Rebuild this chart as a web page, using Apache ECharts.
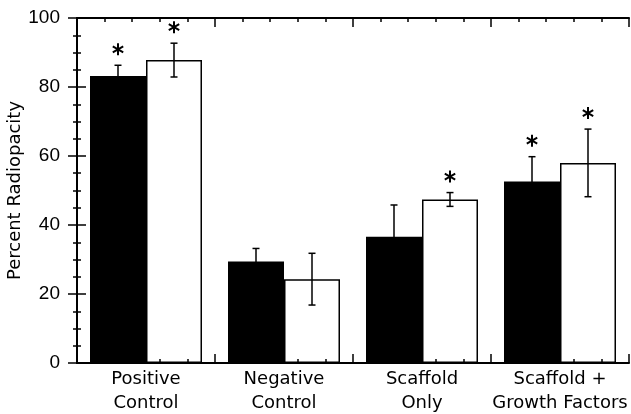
<!DOCTYPE html>
<html>
<head>
<meta charset="utf-8">
<script src="https://cdn.jsdelivr.net/npm/echarts@6/dist/echarts.min.js"></script>
<style>
  html, body { margin: 0; padding: 0; background: #fff; }
  #chartBox { width: 631px; height: 414px; }
</style>
</head>
<body>
<div id="chartBox"></div>
<script>
// categories and values
var categories = ['Positive\nControl', 'Negative\nControl', 'Scaffold\nOnly', 'Scaffold +\nGrowth Factors'];
var blackVals = [83.2, 29.4, 36.6, 52.6];
var blackErr = [3.1, 3.8, 9.2, 7.2];
var whiteVals = [87.8, 24.3, 47.4, 58.0];
var whiteErr = [4.9, 7.5, 2.0, 9.8];
var blackStar = [1, 0, 0, 1];
var whiteStar = [1, 0, 1, 1];
var yTicks = [0, 20, 40, 60, 80, 100];

var barW = 56;
var txtFont = 'DejaVu Sans';

// error bar + star, shifted left/right of the category centre
function errRender(offset, vals, errs, stars) {
    return function (params, api) {
        var i = api.value(0);
        var top = api.coord([i, vals[i] + errs[i]]);
        var bot = api.coord([i, vals[i] - errs[i]]);
        var x = top[0] + offset;
        var st = { stroke: '#000', lineWidth: 1.5 };
        var kids = [
            { type: 'line', shape: { x1: x, y1: top[1], x2: x, y2: bot[1] }, style: st },
            { type: 'line', shape: { x1: x - 3.5, y1: top[1], x2: x + 3.5, y2: top[1] }, style: st },
            { type: 'line', shape: { x1: x - 3.5, y1: bot[1], x2: x + 3.5, y2: bot[1] }, style: st }
        ];
        if (stars[i]) {
            var cy = top[1] - 16;
            var r = 6;
            var ss = { stroke: '#000', lineWidth: 2 };
            kids.push({ type: 'line', shape: { x1: x, y1: cy - r, x2: x, y2: cy + r }, style: ss });
            kids.push({ type: 'line', shape: { x1: x - r * 0.87, y1: cy - r * 0.5, x2: x + r * 0.87, y2: cy + r * 0.5 }, style: ss });
            kids.push({ type: 'line', shape: { x1: x - r * 0.87, y1: cy + r * 0.5, x2: x + r * 0.87, y2: cy - r * 0.5 }, style: ss });
        }
        return { type: 'group', children: kids };
    };
}

var frameAxis = function (pos) {
    return {
        type: 'value', position: pos, min: 0, max: 4, interval: 1, z: 5,
        axisLine: { show: true, lineStyle: { color: '#000', width: 2 } },
        axisTick: { show: true, inside: true, length: 9, lineStyle: { color: '#000', width: 1.5 } },
        minorTick: { show: true, splitNumber: 5, length: 4, lineStyle: { color: '#000', width: 1.5 } },
        axisLabel: { show: false },
        splitLine: { show: false }
    };
};

var chart = echarts.init(document.getElementById('chartBox'));
chart.setOption({
    animation: false,
    grid: { left: 77, right: 2, top: 18, bottom: 51, outerBoundsMode: 'none', containLabel: false },
    xAxis: [
        {
            type: 'category', data: categories, position: 'bottom',
            axisLine: { show: false },
            axisTick: { show: false },
            axisLabel: { color: '#000', fontFamily: txtFont, fontSize: 18, lineHeight: 24, margin: 4, interval: 0 }
        },
        frameAxis('bottom'),
        frameAxis('top')
    ],
    yAxis: [
        {
            type: 'value', min: 0, max: 100, interval: 20, position: 'left', z: 5,
            name: 'Percent Radiopacity', nameLocation: 'middle', nameGap: 53, nameMoveOverlap: false,
            nameTextStyle: { color: '#000', fontFamily: txtFont, fontSize: 18 },
            axisLine: { show: true, lineStyle: { color: '#000', width: 2 } },
            axisTick: { show: true, inside: true, length: 9, lineStyle: { color: '#000', width: 1.5 } },
            minorTick: { show: true, splitNumber: 4, length: 4, lineStyle: { color: '#000', width: 1.5 } },
            axisLabel: { color: '#000', fontFamily: 'Liberation Sans', fontSize: 19, margin: 17,
                customValues: yTicks },
            splitLine: { show: false }
        },
        {
            type: 'value', min: 0, max: 100, interval: 20, position: 'right', z: 5,
            axisLine: { show: true, lineStyle: { color: '#000', width: 2 } },
            axisTick: { show: true, inside: true, length: 9, lineStyle: { color: '#000', width: 1.5 } },
            minorTick: { show: true, splitNumber: 4, length: 4, lineStyle: { color: '#000', width: 1.5 } },
            axisLabel: { show: false },
            splitLine: { show: false }
        }
    ],
    series: [
        {
            type: 'bar', data: blackVals, barWidth: barW, barGap: 0,
            itemStyle: { color: '#000', borderColor: '#000', borderWidth: 1.5 }
        },
        {
            type: 'bar', data: whiteVals, barWidth: barW, barGap: 0,
            itemStyle: { color: '#fff', borderColor: '#000', borderWidth: 1.5 }
        },
        {
            type: 'custom', data: [0, 1, 2, 3], z: 6,
            renderItem: errRender(-barW / 2, blackVals, blackErr, blackStar)
        },
        {
            type: 'custom', data: [0, 1, 2, 3], z: 6,
            renderItem: errRender(barW / 2, whiteVals, whiteErr, whiteStar)
        }
    ]
});
</script>
</body>
</html>
